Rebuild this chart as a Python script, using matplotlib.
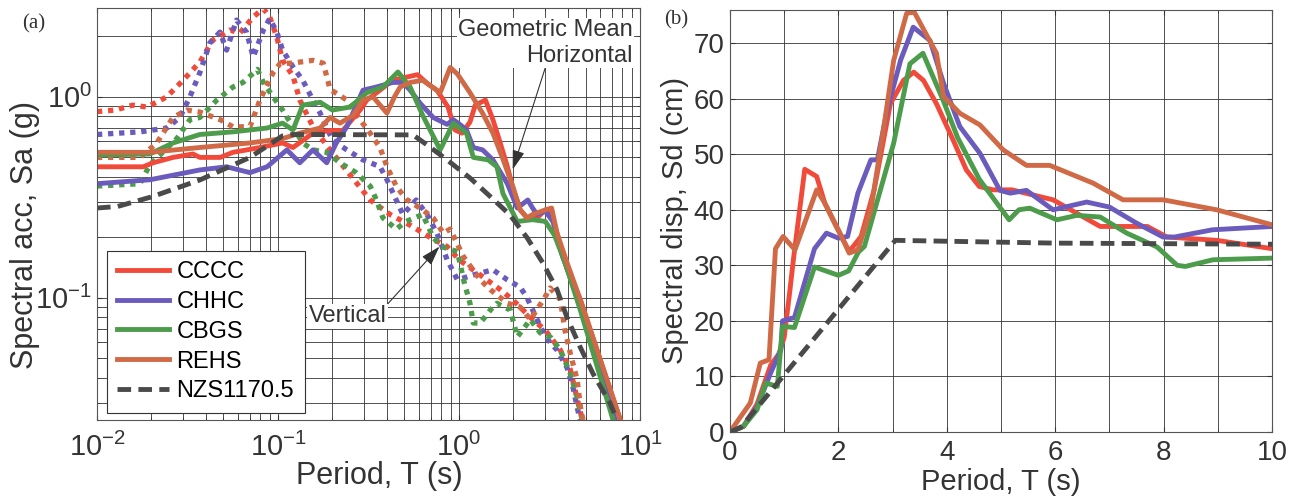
import matplotlib
matplotlib.use("Agg")
import matplotlib.pyplot as plt
from matplotlib.ticker import LogLocator, NullFormatter, MultipleLocator

plt.rcParams['font.family'] = ['Liberation Sans', 'DejaVu Sans']
plt.rcParams['mathtext.default'] = 'regular'

# ---------------- (a) spectral acceleration ----------------
names = ['CCCC', 'CHHC', 'CBGS', 'REHS']
colors = ['#f24a3a', '#6a5bbd', '#4c9c4c', '#d06a46']

# geometric mean horizontal
t_cccc_h = [0.01, 0.018, 0.0204, 0.0263, 0.0339, 0.037, 0.048, 0.0564, 0.0673, 0.0795, 0.106, 0.121, 0.156, 0.194,
            0.228, 0.284, 0.31, 0.366, 0.43, 0.59, 0.666, 0.755, 0.87, 0.95, 1.04, 1.15, 1.23, 1.4, 1.54, 1.69, 1.85,
            2.0, 2.18, 2.38, 2.7, 3.0, 3.2, 3.48, 3.95, 4.68, 6.04, 7.79]
sa_cccc_h = [0.449, 0.449, 0.47, 0.50, 0.52, 0.50, 0.50, 0.53, 0.545, 0.56, 0.59, 0.56, 0.66, 0.68, 0.68, 0.86,
             0.965, 1.08, 1.21, 1.29, 1.17, 1.08, 0.89, 0.685, 0.66, 0.75, 0.91, 0.965, 0.77, 0.59, 0.45, 0.345,
             0.274, 0.25, 0.25, 0.274, 0.274, 0.21, 0.14, 0.098, 0.049, 0.0247]
t_chhc_h = [0.01, 0.0196, 0.037, 0.052, 0.07, 0.087, 0.112, 0.132, 0.156, 0.186, 0.21, 0.24, 0.295, 0.35, 0.43,
            0.49, 0.537, 0.61, 0.72, 0.86, 0.93, 1.01, 1.1, 1.2, 1.35, 1.54, 1.85, 2.1, 2.4, 2.55, 2.7, 3.0, 3.3,
            3.74, 4.68, 7.3]
sa_chhc_h = [0.37, 0.387, 0.433, 0.449, 0.42, 0.449, 0.545, 0.47, 0.545, 0.47, 0.59, 0.71, 1.08, 1.12, 1.18, 1.18,
             1.08, 0.93, 0.79, 0.73, 0.77, 0.73, 0.685, 0.56, 0.545, 0.486, 0.37, 0.28, 0.307, 0.28, 0.26, 0.27,
             0.24, 0.16, 0.094, 0.0247]
t_cbgs_h = [0.01, 0.0196, 0.0263, 0.037, 0.0564, 0.087, 0.106, 0.121, 0.137, 0.171, 0.2, 0.25, 0.31, 0.38, 0.46,
            0.537, 0.63, 0.787, 0.93, 1.1, 1.2, 1.45, 1.62, 1.75, 2.1, 2.55, 3.0, 3.37, 3.85, 4.68, 7.1]
sa_cbgs_h = [0.514, 0.52, 0.59, 0.65, 0.67, 0.70, 0.74, 0.685, 0.91, 0.94, 0.86, 0.89, 1.05, 1.12, 1.33, 1.12,
             0.81, 0.545, 0.74, 0.66, 0.50, 0.486, 0.449, 0.33, 0.24, 0.245, 0.24, 0.205, 0.15, 0.087, 0.0247]
t_rehs_h = [0.01, 0.0196, 0.037, 0.07, 0.106, 0.132, 0.171, 0.194, 0.22, 0.26, 0.295, 0.335, 0.4, 0.44, 0.473,
            0.537, 0.63, 0.71, 0.787, 0.894, 0.98, 1.15, 1.35, 1.54, 1.75, 2.0, 2.18, 2.38, 2.55, 3.0, 3.25, 3.48,
            3.95, 4.68, 7.79]
sa_rehs_h = [0.53, 0.53, 0.56, 0.59, 0.62, 0.66, 0.70, 0.79, 0.74, 0.81, 0.965, 1.0, 0.83, 1.0, 1.12, 1.18, 1.21,
             1.12, 1.05, 1.40, 1.3, 1.05, 0.83, 0.66, 0.49, 0.35, 0.274, 0.25, 0.26, 0.274, 0.28, 0.21, 0.15,
             0.098, 0.0247]

# vertical
t_cccc_v = [0.01, 0.0126, 0.0158, 0.0189, 0.0243, 0.0299, 0.037, 0.0437, 0.0543, 0.0616, 0.073, 0.083, 0.09,
            0.0986, 0.106, 0.121, 0.132, 0.156, 0.194, 0.25, 0.323, 0.416, 0.537, 0.693, 0.86, 1.0, 1.31, 1.69,
            2.0, 2.48, 3.0, 3.63, 4.12, 4.68, 4.84]
sa_cccc_v = [0.845, 0.86, 0.91, 0.89, 1.0, 1.21, 1.49, 1.92, 2.15, 2.08, 2.5, 2.75, 2.5, 1.98, 1.52, 1.27, 0.965,
             0.71, 0.545, 0.41, 0.307, 0.26, 0.23, 0.2, 0.18, 0.155, 0.13, 0.11, 0.097, 0.08, 0.069, 0.055, 0.044,
             0.027, 0.0247]
t_chhc_v = [0.01, 0.0173, 0.0243, 0.0287, 0.0326, 0.037, 0.0421, 0.0478, 0.052, 0.059, 0.067, 0.073, 0.083, 0.09,
            0.0986, 0.106, 0.121, 0.137, 0.156, 0.171, 0.2, 0.24, 0.295, 0.366, 0.4, 0.45, 0.49, 0.58, 0.666,
            0.755, 0.86, 0.98, 1.2, 1.54, 1.85, 2.18, 2.38, 2.7, 3.0, 3.48, 3.95, 4.26, 4.56, 4.68]
sa_chhc_v = [0.65, 0.67, 0.70, 0.79, 1.0, 1.32, 1.86, 2.1, 1.71, 2.41, 2.1, 1.58, 2.15, 2.45, 2.1, 1.71, 1.41,
             1.21, 0.965, 0.83, 0.61, 0.545, 0.486, 0.45, 0.387, 0.307, 0.26, 0.307, 0.26, 0.21, 0.155, 0.123,
             0.13, 0.138, 0.123, 0.113, 0.10, 0.078, 0.064, 0.055, 0.045, 0.036, 0.027, 0.0247]
t_cbgs_v = [0.01, 0.0173, 0.0196, 0.0276, 0.0326, 0.037, 0.046, 0.0564, 0.064, 0.077, 0.083, 0.094, 0.106, 0.121,
            0.137, 0.156, 0.186, 0.22, 0.27, 0.323, 0.35, 0.38, 0.45, 0.51, 0.63, 0.72, 0.8, 0.98, 1.06, 1.15,
            1.2, 1.31, 1.49, 1.62, 1.92, 2.1, 2.48, 2.81, 3.19, 3.63, 4.12, 4.5, 4.68, 4.8]
sa_cbgs_v = [0.36, 0.37, 0.46, 0.62, 0.77, 0.79, 0.965, 1.12, 1.18, 1.37, 1.18, 1.0, 0.86, 0.71, 0.59, 0.545,
             0.53, 0.47, 0.42, 0.36, 0.307, 0.25, 0.22, 0.24, 0.26, 0.2, 0.18, 0.17, 0.123, 0.094, 0.075, 0.075,
             0.087, 0.094, 0.087, 0.064, 0.078, 0.067, 0.064, 0.055, 0.042, 0.032, 0.027, 0.0247]
t_rehs_v = [0.01, 0.0173, 0.0214, 0.0263, 0.0314, 0.037, 0.048, 0.0564, 0.07, 0.0795, 0.094, 0.103, 0.117, 0.132,
            0.156, 0.178, 0.194, 0.24, 0.284, 0.323, 0.366, 0.4, 0.45, 0.51, 0.63, 0.72, 0.82, 0.894, 1.06, 1.31,
            1.49, 1.85, 2.18, 2.48, 2.93, 3.19, 3.63, 3.85, 4.12, 4.5, 4.68, 4.84]
sa_rehs_v = [0.5, 0.5, 0.59, 0.79, 0.86, 0.84, 0.77, 0.71, 0.71, 0.965, 1.32, 1.47, 1.47, 1.49, 1.52, 1.47, 1.09,
             0.965, 0.77, 0.66, 0.56, 0.45, 0.36, 0.31, 0.274, 0.25, 0.21, 0.22, 0.16, 0.123, 0.11, 0.094, 0.09,
             0.078, 0.098, 0.112, 0.098, 0.069, 0.053, 0.039, 0.029, 0.0247]

t_nzs_a = [0.01, 0.013, 0.02, 0.037, 0.07, 0.106, 0.12, 0.557, 0.666, 0.859, 1.15, 1.48, 1.91, 2.38, 2.91, 3.48,
           3.95, 4.67, 5.5, 6.83, 7.46]
sa_nzs = [0.28, 0.285, 0.318, 0.386, 0.50, 0.64, 0.65, 0.647, 0.577, 0.486, 0.395, 0.321, 0.259, 0.199, 0.149,
          0.110, 0.080, 0.057, 0.042, 0.030, 0.0247]

# ---------------- (b) spectral displacement ----------------
t_cccc_d = [0, 0.25, 0.5, 0.75, 0.9, 1.0, 1.1, 1.17, 1.38, 1.6, 1.75, 1.96, 2.2, 2.42, 2.66, 2.96, 3.2, 3.39, 3.57,
            3.81, 4.12, 4.36, 4.6, 4.85, 5.04, 5.2, 5.96, 6.83, 7.7, 8.06, 8.98, 10]
sd_cccc = [0, 1, 5, 12, 14, 17, 25, 31, 47.3, 46, 41.2, 37, 32.5, 35.2, 43.6, 59.1, 63.3, 64.8, 63.3, 59.1, 52.5,
           47.2, 44.2, 43.6, 43.6, 43.6, 41.8, 37, 37, 35.1, 34.5, 33]
t_chhc_d = [0, 0.25, 0.5, 0.75, 0.94, 0.97, 1.19, 1.5, 1.56, 1.78, 2.0, 2.17, 2.36, 2.6, 2.72, 2.9, 3.15, 3.38,
            3.69, 3.94, 4.24, 4.61, 4.98, 5.17, 5.47, 5.96, 6.58, 7.0, 7.5, 7.99, 8.2, 8.9, 10]
sd_chhc = [0, 1, 4.5, 10.6, 14.8, 20, 20.6, 31, 33, 35.8, 34.9, 35.2, 43, 49, 49, 58, 67, 72.9, 70.5, 62.8, 55,
           50.2, 43.5, 43, 43.5, 40, 41.4, 40.5, 37.6, 35.1, 35.1, 36.4, 37]
t_cbgs_d = [0, 0.25, 0.5, 0.66, 0.875, 0.97, 1.19, 1.56, 2.0, 2.19, 2.37, 2.48, 3.02, 3.32, 3.56, 3.93, 4.2, 4.6,
            5.15, 5.33, 5.53, 6.03, 6.4, 6.83, 7.32, 7.88, 8.25, 8.4, 8.91, 10]
sd_cbgs = [0, 1, 4, 8.8, 8.2, 19, 18.8, 29.7, 28.2, 29, 32.4, 33.4, 52, 66.3, 68.2, 59.8, 53, 45.5, 38.2, 40,
           40.3, 38.2, 39, 38.7, 35.8, 33.3, 30, 29.8, 31, 31.3]
t_rehs_d = [0, 0.375, 0.56, 0.72, 0.84, 0.98, 1.2, 1.6, 1.75, 2.0, 2.2, 2.36, 2.6, 2.84, 3.02, 3.26, 3.4, 3.81,
            3.94, 4.24, 4.61, 5.04, 5.47, 5.9, 6.7, 7.25, 7.99, 8.98, 10]
sd_rehs = [0, 5.2, 12.4, 13, 33, 35.2, 32.8, 43.6, 41.2, 36.4, 32.2, 32.8, 40, 55, 66.9, 75.4, 75.6, 68.2, 60.4,
           57.4, 55.3, 50.8, 48, 48, 44.8, 41.8, 41.8, 40, 37.3]
t_nzs_d = [0, 0.2, 3.05, 6, 10]
sd_nzs = [0, 0.8, 34.5, 34.0, 33.8]

horiz = [(t_cccc_h, sa_cccc_h), (t_chhc_h, sa_chhc_h), (t_cbgs_h, sa_cbgs_h), (t_rehs_h, sa_rehs_h)]
vert = [(t_cccc_v, sa_cccc_v), (t_chhc_v, sa_chhc_v), (t_cbgs_v, sa_cbgs_v), (t_rehs_v, sa_rehs_v)]
disp = [(t_cccc_d, sd_cccc), (t_chhc_d, sd_chhc), (t_cbgs_d, sd_cbgs), (t_rehs_d, sd_rehs)]

nzs_color = '#4a4a4a'
grid_kw = dict(color='#333333', linewidth=0.6)
lw = 3.5

fig = plt.figure(figsize=(13, 4.97), dpi=100)
ax1 = fig.add_axes([0.0746, 0.155, 0.4177, 0.829])
ax2 = fig.add_axes([0.5615, 0.131, 0.417, 0.849])

# --- panel (a)
for (t, s), c in zip(vert, colors):
    ax1.plot(t, s, color=c, lw=3.8, linestyle=(0, (1, 1.1)))
for (t, s), c, n in zip(horiz, colors, names):
    ax1.plot(t, s, color=c, lw=lw, label=n)
ax1.plot(t_nzs_a, sa_nzs, color=nzs_color, lw=lw, linestyle=(0, (2.8, 1.5)), label='NZS1170.5')

ax1.set_xscale('log')
ax1.set_yscale('log')
ax1.set_xlim(0.01, 10)
ax1.set_ylim(0.0247, 2.77)
ax1.xaxis.set_minor_locator(LogLocator(base=10, subs=range(2, 10), numticks=20))
ax1.yaxis.set_minor_locator(LogLocator(base=10, subs=range(2, 10), numticks=20))
ax1.xaxis.set_minor_formatter(NullFormatter())
ax1.yaxis.set_minor_formatter(NullFormatter())
ax1.grid(True, which='both', **grid_kw)
ax1.set_axisbelow(True)
ax1.tick_params(which='both', direction='in', top=True, right=True, labelsize=21, colors='#333333')
ax1.tick_params(axis='x', pad=9)
ax1.set_xlabel('Period, T (s)', fontsize=22, color='#333333')
ax1.set_ylabel('Spectral acc, Sa (g)', fontsize=22, color='#333333')
ax1.xaxis.set_label_coords(0.52, -0.1)
ax1.yaxis.set_label_coords(-0.105, 0.45)

leg = ax1.legend(loc='lower left', bbox_to_anchor=(0.018, 0.017), borderaxespad=0, fontsize=17,
                 handlelength=2.2, handletextpad=0.3, labelspacing=0.33, borderpad=0.45,
                 fancybox=False, framealpha=1, edgecolor='#333333')
leg.get_frame().set_linewidth(0.8)

box = dict(facecolor='white', edgecolor='none', pad=1)
ax1.annotate('Geometric Mean\nHorizontal', xy=(1.98, 0.435), xytext=(0.987, 0.972),
             textcoords='axes fraction', ha='right', va='top', multialignment='right',
             fontsize=17, color='#333333', bbox=box,
             arrowprops=dict(arrowstyle='-|>,head_length=0.7,head_width=0.22', color='#333333', lw=0.8,
                             relpos=(0.5, 0.0), shrinkA=0, shrinkB=0))
ax1.annotate('Vertical', xy=(0.78, 0.18), xytext=(0.39, 0.252),
             textcoords='axes fraction', ha='left', va='center',
             fontsize=17, color='#333333', bbox=box,
             arrowprops=dict(arrowstyle='-|>,head_length=0.7,head_width=0.22', color='#333333', lw=0.8,
                             relpos=(1.0, 1.0), shrinkA=0, shrinkB=0))

# --- panel (b)
for (t, s), c in zip(disp, colors):
    ax2.plot(t, s, color=c, lw=lw)
ax2.plot(t_nzs_d, sd_nzs, color=nzs_color, lw=lw, linestyle=(0, (2.8, 1.5)))
ax2.set_xlim(0, 10)
ax2.set_ylim(0, 76)
ax2.xaxis.set_major_locator(MultipleLocator(2))
ax2.xaxis.set_minor_locator(MultipleLocator(1))
ax2.yaxis.set_major_locator(MultipleLocator(10))
ax2.grid(True, which='both', **grid_kw)
ax2.set_axisbelow(True)
ax2.tick_params(which='both', direction='in', top=True, right=True, labelsize=20, colors='#333333')
ax2.tick_params(axis='x', pad=6)
ax2.tick_params(axis='y', pad=4)
ax2.set_xlabel('Period, T (s)', fontsize=21, color='#333333')
ax2.set_ylabel('Spectral disp, Sd (cm)', fontsize=21, color='#333333')
ax2.xaxis.set_label_coords(0.5, -0.085)
ax2.yaxis.set_label_coords(-0.075, 0.5)

for ax in (ax1, ax2):
    for sp in ax.spines.values():
        sp.set_color('#555555')
        sp.set_linewidth(0.8)

fig.text(0.017, 0.952, '(a)', fontsize=15, family='Liberation Serif', va='center', color='#333333')
fig.text(0.511, 0.96, '(b)', fontsize=15, family='Liberation Serif', va='center', color='#333333')

fig.savefig('out.png', dpi=100)
